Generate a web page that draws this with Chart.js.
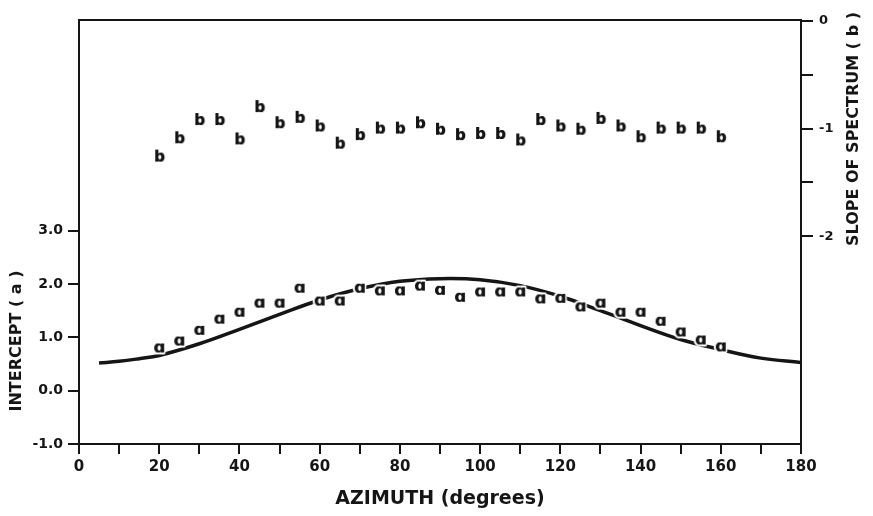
<!DOCTYPE html>
<html>
<head>
<meta charset="utf-8">
<script src="https://cdn.jsdelivr.net/npm/chart.js@4.4.1/dist/chart.umd.min.js"></script>
<style>
  body { margin: 0; background: #fff; }
  #wrap { width: 873px; height: 516px; position: relative; }
</style>
</head>
<body>
<div id="wrap"><canvas id="azimuth_chart"></canvas></div>
<script>
// sampled azimuths of the measured points
const azimuth = [20, 25, 30, 35, 40, 45, 50, 55, 60, 65, 70, 75, 80, 85, 90,
  95, 100, 105, 110, 115, 120, 125, 130, 135, 140, 145, 150, 155, 160];
// intercept (a), left axis
const intercept = [0.81, 0.94, 1.14, 1.35, 1.48, 1.65, 1.65, 1.93, 1.69, 1.69, 1.93, 1.88, 1.88, 1.97, 1.89,
  1.76, 1.86, 1.86, 1.86, 1.73, 1.74, 1.58, 1.65, 1.48, 1.48, 1.31, 1.11, 0.96, 0.83];
// slope of spectrum (b), right axis
const slope = [-1.25, -1.08, -0.91, -0.91, -1.09, -0.79, -0.94, -0.89, -0.97, -1.13, -1.05, -0.99, -0.99, -0.94, -1.00,
  -1.05, -1.04, -1.04, -1.10, -0.91, -0.97, -1.00, -0.90, -0.97, -1.07, -0.99, -0.99, -0.99, -1.07];
// fitted curve
const curveAzimuth = [5, 10, 15, 20, 30, 40, 50, 60, 70, 80, 90, 100, 110, 120, 130, 140, 150, 160, 170, 180];
const curveIntercept = [0.52, 0.55, 0.60, 0.66, 0.88, 1.15, 1.43, 1.70, 1.91, 2.05, 2.10, 2.08, 1.97, 1.77, 1.50, 1.22, 0.96, 0.77, 0.61, 0.53];

const xTicks = [0, 10, 20, 30, 40, 50, 60, 70, 80, 90, 100, 110, 120, 130, 140, 150, 160, 170, 180];
const leftTicks = [-1, 0, 1, 2, 3];
const rightTicks = [0, -0.5, -1, -1.5, -2];

const INK = '#151515';
const FONT = '"DejaVu Sans", sans-serif';

function letterMarker(ch, size) {
  const c = document.createElement('canvas');
  c.width = 24;
  c.height = 24;
  const g = c.getContext('2d');
  g.font = 'bold ' + size + 'px ' + FONT;
  g.textAlign = 'center';
  const m = g.measureText(ch);
  const y = 12 + (m.actualBoundingBoxAscent - m.actualBoundingBoxDescent) / 2;
  g.lineJoin = 'round';
  g.lineWidth = 4;
  g.strokeStyle = '#fff';
  g.strokeText(ch, 12, y);
  g.fillStyle = INK;
  g.fillText(ch, 12, y);
  // a little extra weight
  g.fillText(ch, 12.5, y);
  return c;
}

const markerA = letterMarker('\u0251', 16);
const markerB = letterMarker('b', 15);

const axisTitles = {
  id: 'axisTitles',
  afterDraw(chart) {
    const ctx = chart.ctx;
    ctx.save();
    ctx.fillStyle = INK;
    ctx.textAlign = 'center';
    ctx.textBaseline = 'middle';
    ctx.font = 'bold 19px ' + FONT;
    ctx.fillText('AZIMUTH (degrees)', 440, 499);
    ctx.font = 'bold 16px ' + FONT;
    ctx.translate(17, 341);
    ctx.rotate(-Math.PI / 2);
    ctx.fillText('INTERCEPT ( a )', 0, 0);
    ctx.restore();
    ctx.save();
    ctx.fillStyle = INK;
    ctx.textAlign = 'center';
    ctx.textBaseline = 'middle';
    ctx.font = 'bold 16px ' + FONT;
    ctx.translate(854, 129);
    ctx.rotate(-Math.PI / 2);
    ctx.fillText('SLOPE OF SPECTRUM ( b )', 0, 0);
    ctx.restore();
  }
};

const tickGrid = {
  display: true,
  drawOnChartArea: false,
  drawTicks: true,
  color: INK,
  lineWidth: 2
};

new Chart(document.getElementById('azimuth_chart'), {
  type: 'scatter',
  data: {
    datasets: [
      {
        label: 'a',
        data: azimuth.map((x, i) => ({ x: x, y: intercept[i] })),
        yAxisID: 'y',
        pointStyle: markerA,
        pointRadius: 8,
        order: 1
      },
      {
        label: 'b',
        data: azimuth.map((x, i) => ({ x: x, y: slope[i] })),
        yAxisID: 'y2',
        pointStyle: markerB,
        pointRadius: 8,
        order: 1
      },
      {
        label: 'fit',
        data: curveAzimuth.map((x, i) => ({ x: x, y: curveIntercept[i] })),
        yAxisID: 'y',
        showLine: true,
        borderColor: INK,
        borderWidth: 3.5,
        pointRadius: 0,
        tension: 0.4,
        order: 2
      }
    ]
  },
  options: {
    responsive: true,
    maintainAspectRatio: false,
    animation: false,
    events: [],
    layout: { padding: 0 },
    plugins: {
      legend: { display: false },
      tooltip: { enabled: false }
    },
    scales: {
      x: {
        type: 'linear',
        position: 'bottom',
        min: 0,
        max: 180,
        afterBuildTicks: (scale) => { scale.ticks = xTicks.map(v => ({ value: v })); },
        afterFit: (scale) => { scale.height = 72; },
        grid: { ...tickGrid, tickLength: 10 },
        border: { display: true, color: INK, width: 2 },
        ticks: {
          autoSkip: false,
          maxRotation: 0,
          padding: 4,
          color: INK,
          font: { family: FONT, size: 15, weight: 'bold' },
          callback: (v) => (v % 20 === 0 ? String(v) : '')
        }
      },
      xTop: {
        type: 'linear',
        position: 'top',
        min: 0,
        max: 180,
        afterFit: (scale) => { scale.height = 20; },
        grid: { display: false },
        border: { display: true, color: INK, width: 2 },
        ticks: { display: false }
      },
      y: {
        type: 'linear',
        position: 'left',
        min: -1,
        max: 6.95,
        afterBuildTicks: (scale) => { scale.ticks = leftTicks.map(v => ({ value: v })); },
        afterFit: (scale) => { scale.width = 79; },
        grid: { ...tickGrid, tickLength: 11 },
        border: { display: true, color: INK, width: 2 },
        ticks: {
          padding: 5,
          color: INK,
          font: { family: FONT, size: 14, weight: 'bold' },
          callback: (v) => v.toFixed(1)
        }
      },
      y2: {
        type: 'linear',
        position: 'right',
        min: -3.93,
        max: 0.01,
        afterBuildTicks: (scale) => { scale.ticks = rightTicks.map(v => ({ value: v })); },
        afterFit: (scale) => { scale.width = 72; },
        grid: { ...tickGrid, tickLength: 12 },
        border: { display: true, color: INK, width: 2 },
        ticks: {
          padding: 6,
          color: INK,
          font: { family: FONT, size: 13, weight: 'bold' },
          callback: (v) => (Number.isInteger(v) ? String(v) : '')
        }
      }
    }
  },
  plugins: [axisTitles]
});
</script>
</body>
</html>
